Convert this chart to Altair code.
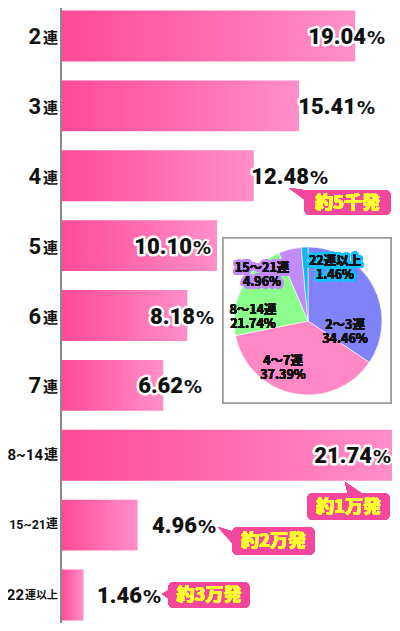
import altair as alt
import pandas as pd

# ---------------- data ----------------
categories = ["2連", "3連", "4連", "5連", "6連", "7連", "8~14連", "15~21連", "22連以上"]
cat_numbers = ["2", "3", "4", "5", "6", "7", "8~14", "15~21", "22"]
cat_suffix = ["連", "連", "連", "連", "連", "連", "連", "連", "連以上"]
values = [19.04, 15.41, 12.48, 10.10, 8.18, 6.62, 21.74, 4.96, 1.46]
value_text = ["19.04", "15.41", "12.48", "10.10", "8.18", "6.62", "21.74", "4.96", "1.46"]

pie_categories = ["2～3連", "4～7連", "8～14連", "15～21連", "22連以上"]
pie_values = [34.46, 37.39, 21.74, 4.96, 1.46]
pie_value_text = ["34.46%", "37.39%", "21.74%", "4.96%", "1.46%"]

callout_texts = ["約5千発", "約1万発", "約2万発", "約3万発"]

# ---------------- layout / style ----------------
label_anchor = [19.74, 19.09, 16.05, 8.48, 8.67, 7.9, 20.13, 8.8, 5.24]  # value-label anchors (x units)
# category label layout: (number right edge px, number font size, suffix font size)
cat_label_layout = [(-20, 22, 15)] * 6 + [(-18, 15, 14), (-15, 12.5, 12), (-37, 15, 11)]
pie_colors = ["#8282f8", "#ff88c6", "#8cfc8c", "#c28cf8", "#12b6f2"]
pie_label_xy = [(284, 317), (222, 353), (192, 302), (201, 260), (274, 253)]
pie_label_halo = [None, None, None, "#c28cf8", "#12c0ff"]
callout_boxes = [(243, 182, 330, 207), (246, 485, 329, 512), (171, 519, 254, 547), (107, 574, 189, 600)]
callout_tails = [
    (243, 186, "M -1.5 -0.6 L 0.1 0.6 L 1.4 -0.2 Z"),
    (292, 480, "M -0.8 -0.6 L -0.5 0.7 L 1.1 0.7 Z"),
    (162, 527, "M -0.5 -0.8 L 1.1 -0.3 L 1.1 1.0 Z"),
    (107, 587, "M -0.6 -0.1 L 0.4 -0.7 L 0.4 0.6 Z"),
]

PINK = "#f2479d"
YELLOW = "#ffff2a"
NUM_FONT = "Roboto"
PCT_FONT = "DejaVu Sans"
JP_FONT = "Noto Sans CJK JP"

LEFT = 53
W, H = 331, 615

df = pd.DataFrame({
    "cat": categories,
    "num": cat_numbers,
    "suffix": cat_suffix,
    "value": values,
    "vtext": value_text,
    "anchor": label_anchor,
})

xscale = alt.Scale(domain=[0, W / 15.45], nice=False, zero=True)
yscale = alt.Scale(domain=categories, paddingInner=0.2714, paddingOuter=0.0357)

X = lambda f: alt.X(f, type="quantitative", scale=xscale, axis=None)
Y = alt.Y("cat:N", scale=yscale, axis=None, sort=categories)

gradient = alt.Gradient(
    gradient="linear",
    stops=[
        alt.GradientStop(color="#ff4a97", offset=0),
        alt.GradientStop(color="#ff65aa", offset=0.4),
        alt.GradientStop(color="#ff8fc9", offset=1),
    ],
    x1=0, x2=1, y1=0, y2=0,
)

base = alt.Chart(df)

bars = base.mark_bar(color=gradient).encode(x=X("value"), y=Y)

axis_rule = alt.Chart(df).mark_rule(color="#8a8a8a", strokeWidth=1.5).encode(
    x=alt.value(0), y=alt.value(-8), y2=alt.value(H + 8)
)

layers = [bars, axis_rule]

# category labels (number + suffix with different sizes)
for cat, (right, nsize, ssize) in zip(categories, cat_label_layout):
    sub = base.transform_filter(alt.datum.cat == cat)
    layers.append(sub.mark_text(
        align="right", baseline="alphabetic", font=NUM_FONT, fontSize=nsize, fontWeight="bold",
        dy=round(nsize * 0.36), color="#111"
    ).encode(x=alt.value(right), y=Y, text="num:N"))
    layers.append(sub.mark_text(
        align="right", baseline="alphabetic", font=JP_FONT, fontSize=ssize, fontWeight="bold",
        dy=round(nsize * 0.36) - 1, color="#111"
    ).encode(x=alt.value(-3), y=Y, text="suffix:N"))

# value labels
num_kw = dict(align="right", baseline="alphabetic", font=NUM_FONT, fontSize=22, fontWeight=900, dy=8)
pct_kw = dict(align="left", baseline="alphabetic", font=PCT_FONT, fontSize=18, fontWeight="bold", dy=8, dx=1)
layers += [
    base.mark_text(stroke="white", strokeWidth=5, strokeJoin="round", color="white", **num_kw).encode(
        x=X("anchor"), y=Y, text="vtext:N"),
    base.mark_text(color="#111", **num_kw).encode(x=X("anchor"), y=Y, text="vtext:N"),
    base.mark_text(stroke="white", strokeWidth=4, strokeJoin="round", color="white", **pct_kw).encode(
        x=X("anchor"), y=Y, text=alt.value("%")),
    base.mark_text(color="#111", **pct_kw).encode(x=X("anchor"), y=Y, text=alt.value("%")),
]

# callouts
for (x1, y1, x2, y2), txt, (tx, ty, path) in zip(callout_boxes, callout_texts, callout_tails):
    box = alt.Chart(df).mark_rect(color=PINK, cornerRadius=6).encode(
        x=alt.value(x1), x2=alt.value(x2), y=alt.value(y1), y2=alt.value(y2))
    tail = alt.Chart(df).mark_point(shape=path, filled=True, size=400, color=PINK, opacity=1, strokeWidth=0).encode(
        x=alt.value(tx), y=alt.value(ty))
    label = alt.Chart(df).mark_text(
        font=JP_FONT, fontSize=18, fontWeight=900, color=YELLOW, align="center", baseline="middle"
    ).encode(x=alt.value((x1 + x2) / 2), y=alt.value((y1 + y2) / 2 + 1), text=alt.value(txt))
    layers += [tail, box, label]

# pie inset
pie_df = pd.DataFrame({
    "cat": pie_categories,
    "value": pie_values,
    "order": list(range(len(pie_categories))),
})
frame = alt.Chart(df).mark_rect(fill="white", stroke="#9a9a9a", strokeWidth=1.5).encode(
    x=alt.value(162), x2=alt.value(330), y=alt.value(230), y2=alt.value(395))
pie = alt.Chart(pie_df).mark_arc(outerRadius=74, stroke="white", strokeWidth=0.6).encode(
    theta=alt.Theta("value:Q", stack=True),
    color=alt.Color("cat:N", scale=alt.Scale(domain=pie_categories, range=pie_colors), legend=None),
    order=alt.Order("order:Q"),
    x=alt.value(247), y=alt.value(313),
)
layers += [frame, pie]

for cat, vt, (lx, ly), halo in zip(pie_categories, pie_value_text, pie_label_xy, pie_label_halo):
    kw = dict(font=JP_FONT, fontSize=12.5, fontWeight="bold", align="center", baseline="middle",
              lineBreak="\n", lineHeight=14)
    enc = dict(x=alt.value(lx), y=alt.value(ly), text=alt.value(cat + "\n" + vt))
    if halo:
        layers.append(alt.Chart(df).mark_text(color=halo, stroke=halo, strokeWidth=5, strokeJoin="round", **kw).encode(**enc))
    layers.append(alt.Chart(df).mark_text(color="#111", **kw).encode(**enc))

chart = alt.layer(*layers).properties(
    width=W, height=H,
    padding={"left": LEFT, "top": 0, "right": 0, "bottom": 0},
    autosize="none",
).configure_view(stroke=None)

chart.save("out.html", embed_options={"renderer": "svg", "actions": False})
